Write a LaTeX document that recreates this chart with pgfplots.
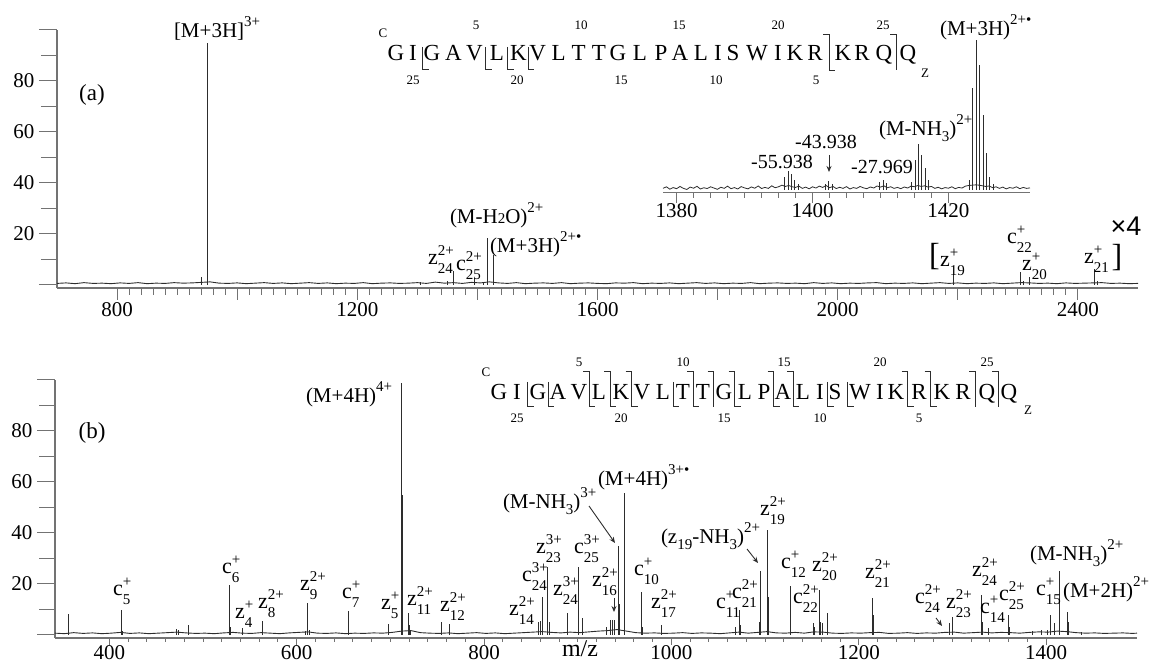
\documentclass[border=0pt]{standalone}
\usepackage{fontspec}
\setmainfont{Liberation Serif}
\newfontfamily\sansf{Liberation Sans}
\usepackage{pgfplots}
\pgfplotsset{compat=1.18}
\usetikzlibrary{arrows.meta}
\definecolor{axgray}{RGB}{115,115,115}
\definecolor{spec}{RGB}{45,45,45}
\newcommand\sfs{\fontsize{7.5}{9}\selectfont}
\newcommand\lf{\fontsize{10.5}{12}\selectfont}
\newcommand\ionf{\fontsize{11}{12}\selectfont}
\newcommand\seqf{\fontsize{11.5}{12}\selectfont}
\newcommand\numf{\fontsize{6.5}{7}\selectfont}
\newcommand\ion[3]{#1{\sfs\rlap{\raisebox{4.8pt}{#3}}\raisebox{-4.2pt}{#2}}}
\newcommand\chg[1]{{\sfs\raisebox{5.5pt}{#1}}}
\newcommand\sbs[1]{{\sfs\raisebox{-3pt}{#1}}}
\pgfplotsset{spectrum/.style={
  scale only axis, axis x line*=bottom, axis y line*=left, tick align=outside,
  axis line style={axgray, line width=0.6pt},
  every tick/.style={axgray, line width=0.5pt},
  /pgf/number format/1000 sep={},
  tick label style={font=\fontsize{10.5}{12}\selectfont, inner sep=1pt},
  yticklabel style={xshift=-5.8pt},
  ymin=-1.2, ymax=100,
  ytick={20,40,60,80}, yticklabels={20,40,60,80},
  minor ytick={10,30,50,70,90},
  extra y ticks={0,100}, extra y tick labels={,},
  clip=false,
}}
\begin{document}
\begin{tikzpicture}
\useasboundingbox (0,0) rectangle (576pt,332pt);
% ---------------- panel (a) ----------------
\begin{axis}[spectrum, at={(28.5pt,188pt)}, anchor=south west,
  width=540.5pt, height=129pt, xmin=700, xmax=2500,
  xtick={800,1000,...,2400}, xticklabels={800,,1200,,1600,,2000,,2400},
  minor x tick num=9, xticklabel style={yshift=-2pt},
  xtick style={/pgfplots/major tick length=6pt, /pgfplots/minor tick length=3.5pt},
  ytick style={/pgfplots/major tick length=9pt, /pgfplots/minor tick length=8pt},
  extra y tick style={/pgfplots/major tick length=11.5pt}]
\addplot[spec, line width=0.45pt] coordinates {
(700,0.6)(715,0.8)(730,0.5)(745,0.9)(760,0.6)(775,0.7)(790,0.5)(805,0.8)(820,0.6)(835,0.9)
(850,0.5)(865,0.7)(880,0.6)(895,0.9)(910,0.7)(925,0.8)(940,1.0)(955,1.2)(970,0.7)(985,0.6)
(1000,0.8)(1015,0.5)(1030,0.7)(1045,0.9)(1060,0.6)(1075,0.8)(1090,0.5)(1105,0.7)(1120,0.9)(1135,0.6)
(1150,0.8)(1165,0.5)(1180,0.7)(1195,0.6)(1210,0.9)(1225,0.5)(1240,0.7)(1255,0.8)(1270,0.6)(1285,0.7)
(1300,0.9)(1315,0.6)(1330,1.1)(1345,0.7)(1360,0.9)(1375,0.6)(1390,1.0)(1405,0.8)(1420,1.2)(1435,0.8)
(1450,0.6)(1465,0.9)(1480,0.5)(1495,0.7)(1510,0.8)(1525,0.6)(1540,0.9)(1555,0.5)(1570,0.7)(1585,0.8)
(1600,0.6)(1615,0.5)(1630,0.8)(1645,0.7)(1660,0.9)(1675,0.5)(1690,0.7)(1705,0.6)(1720,0.8)(1735,0.5)
(1750,0.7)(1765,0.9)(1780,0.6)(1795,0.8)(1810,0.5)(1825,0.7)(1840,0.6)(1855,0.9)(1870,0.5)(1885,0.7)
(1900,0.8)(1915,0.6)(1930,0.7)(1945,0.5)(1960,0.9)(1975,0.6)(1990,0.8)(2005,0.5)(2020,0.7)(2035,0.6)
(2050,0.8)(2065,0.9)(2080,0.5)(2095,0.7)(2110,0.6)(2125,0.8)(2140,0.5)(2155,0.7)(2170,0.9)(2185,0.6)
(2200,0.8)(2215,0.5)(2230,0.7)(2245,0.6)(2260,0.8)(2275,0.5)(2290,0.7)(2305,0.9)(2320,0.8)(2335,0.6)
(2350,0.7)(2365,0.5)(2380,0.8)(2395,0.6)(2410,0.7)(2425,0.8)(2440,0.9)(2455,0.6)(2470,0.7)(2485,0.5)(2500,0.6)};
\addplot[ycomb, spec, line width=0.5pt] coordinates {
(940,3)(949.9,95)(951,1.5)(1305,1)(1350,1.5)(1361,5.6)(1396,2.6)(1410,1.2)(1416.4,18.4)(1426.6,11.8)
(2192.7,4.3)(2305,5.2)(2310,1.5)(2320,3.1)(2428,6.2)(2432,1.5)};
\end{axis}
% ---------------- inset ----------------
\begin{axis}[scale only axis, at={(331.5pt,235.65pt)}, anchor=south west,
  width=183.5pt, height=81.36pt, xmin=1378, xmax=1432, ymin=-1.7, ymax=100,
  axis x line*=bottom, axis y line=none, tick align=outside,
  axis line style={axgray, line width=0.6pt}, every tick/.style={axgray, line width=0.5pt},
  xtick={1380,1400,1420}, xticklabels={1380,1400,1420}, minor x tick num=7,
  xtick style={/pgfplots/major tick length=5pt, /pgfplots/minor tick length=2.5pt},
  tick label style={font=\fontsize{10.5}{12}\selectfont, inner sep=1pt}, clip=false]
\addplot[spec, line width=0.4pt] coordinates {
(1378,1.0)(1378.5,2.0)(1379,0.5)(1379.5,1.5)(1380,0.8)(1380.5,2.2)(1381,1.0)(1381.5,0.3)(1382,1.8)(1382.5,1.1)
(1383,2.3)(1383.5,0.6)(1384,1.4)(1384.5,0.9)(1385,2.0)(1385.5,1.2)(1386,0.4)(1386.5,1.7)(1387,1.0)(1387.5,2.4)
(1388,0.8)(1388.5,1.5)(1389,0.6)(1389.5,2.1)(1390,1.3)(1390.5,0.7)(1391,1.9)(1391.5,1.1)(1392,2.5)(1392.5,0.9)
(1393,1.6)(1393.5,1.0)(1394,2.6)(1394.5,1.4)(1395,2.0)(1395.5,3.0)(1396,2.2)(1396.5,2.8)(1397,2.0)(1397.5,1.6)
(1398,2.4)(1398.5,1.0)(1399,1.8)(1399.5,0.7)(1400,2.0)(1400.5,1.2)(1401,2.4)(1401.5,1.6)(1402,2.8)(1402.5,1.4)
(1403,2.2)(1403.5,0.9)(1404,1.7)(1404.5,1.0)(1405,2.1)(1405.5,0.6)(1406,1.5)(1406.5,1.0)(1407,2.2)(1407.5,1.3)
(1408,0.8)(1408.5,1.9)(1409,1.2)(1409.5,2.5)(1410,1.8)(1410.5,2.6)(1411,1.4)(1411.5,2.0)(1412,1.0)(1412.5,1.6)
(1413,0.8)(1413.5,1.9)(1414,1.2)(1414.5,2.4)(1415,2.0)(1415.5,2.8)(1416,2.2)(1416.5,2.6)(1417,1.8)(1417.5,2.2)
(1418,1.0)(1418.5,1.7)(1419,0.7)(1419.5,1.5)(1420,1.1)(1420.5,2.0)(1421,0.8)(1421.5,1.6)(1422,1.2)(1422.5,2.4)
(1423,2.8)(1423.5,3.0)(1424,3.2)(1424.5,3.0)(1425,2.6)(1425.5,2.2)(1426,2.5)(1426.5,1.4)(1427,2.0)(1427.5,1.0)
(1428,1.8)(1428.5,0.7)(1429,1.5)(1429.5,1.1)(1430,2.0)(1430.5,0.8)(1431,1.6)(1431.5,1.0)(1432,1.3)};
\addplot[ycomb, spec, line width=0.5pt] coordinates {
(1395.9,8)(1396.4,12)(1396.9,10)(1397.4,6)(1397.9,3.5)
(1401.9,4)(1402.4,5.5)(1402.9,3.5)
(1409.9,5)(1410.4,6)(1410.9,4.5)
(1414.6,5)(1415.1,19)(1415.6,29)(1416.1,22)(1416.6,14)(1417.1,6)
(1423.1,6)(1423.6,64)(1424.1,94)(1424.6,78)(1425.1,47)(1425.6,23)(1426.1,8)(1426.6,4)};
\end{axis}
% ---------------- panel (b) ----------------
\begin{axis}[spectrum, at={(27.5pt,13pt)}, anchor=south west,
  width=541pt, height=129pt, xmin=342, xmax=1497,
  xtick={400,600,...,1400}, xticklabels={400,600,800,1000,1200,1400},
  minor x tick num=9, xticklabel style={yshift=1.5pt},
  xtick style={/pgfplots/major tick length=3.5pt, /pgfplots/minor tick length=2pt},
  ytick style={/pgfplots/major tick length=9pt, /pgfplots/minor tick length=8pt},
  extra y tick style={/pgfplots/major tick length=11.5pt}]
\addplot[spec, line width=0.45pt] coordinates {
(342,0.7)(352,0.5)(362,0.9)(372,0.6)(382,0.8)(392,0.5)(402,0.7)(412,1.0)(422,0.6)(432,0.8)
(442,0.5)(452,0.7)(462,0.9)(472,1.1)(482,0.8)(492,0.6)(502,0.7)(512,0.5)(522,0.8)(532,1.0)
(542,0.7)(552,0.6)(562,0.9)(572,0.7)(582,0.5)(592,0.8)(602,1.0)(612,1.2)(622,0.7)(632,0.6)
(642,0.8)(652,0.5)(662,0.7)(672,0.6)(682,0.8)(692,0.7)(702,1.0)(712,1.5)(722,1.7)(732,0.9)
(742,0.7)(752,0.6)(762,0.8)(772,0.5)(782,0.7)(792,0.9)(802,0.6)(812,0.8)(822,0.5)(832,0.7)
(842,0.9)(852,1.1)(862,1.3)(872,1.0)(882,0.8)(892,1.1)(902,0.9)(912,1.2)(922,1.5)(932,1.7)
(942,2.1)(952,1.5)(962,0.9)(972,0.7)(982,0.8)(992,0.6)(1002,0.7)(1012,0.9)(1022,0.6)(1032,0.8)
(1042,0.7)(1052,0.5)(1062,0.8)(1072,1.1)(1082,0.7)(1092,1.0)(1102,1.3)(1112,0.8)(1122,0.7)(1132,1.0)
(1142,0.7)(1152,1.2)(1162,1.1)(1172,0.7)(1182,0.6)(1192,0.8)(1202,0.7)(1212,0.9)(1222,1.0)(1232,0.6)
(1242,0.7)(1252,0.9)(1262,0.6)(1272,0.8)(1282,0.7)(1292,1.0)(1302,1.1)(1312,0.7)(1322,0.9)(1332,1.1)
(1342,0.8)(1352,1.0)(1362,0.9)(1372,0.7)(1382,1.0)(1392,1.2)(1402,1.1)(1412,1.5)(1422,1.3)(1432,0.9)
(1442,0.7)(1452,0.8)(1462,0.6)(1472,0.7)(1482,0.8)(1492,0.6)(1497,0.7)};
\addplot[ycomb, spec, line width=0.5pt] coordinates {
(356,8.2)(413.2,9.8)(414.5,1.5)(472,2.3)(473.5,2)(484,3.9)(528.4,19.6)(529.5,3)(541.8,2.9)(563.5,5.6)
(609,1.5)(612,12.5)(613.5,2)(655.8,9.2)(698,4.3)(712.2,99)(712.45,55)(712.7,27)(712.95,10)
(719.5,8.6)(720.5,4)(721.5,2)(755,5.2)(763.2,4.3)(858.4,5)(860.5,5.5)(862.5,15)(868.2,26.8)(869.6,5)
(889.5,8.8)(900.8,26.7)(904.7,6.7)(930.4,3.3)(934.5,5.9)(937.4,5.9)(939.4,6)(943.9,34.9)(944.3,12)
(949.6,55.7)(949.9,45)(950.3,20)(968.3,17)(969,3)(989.7,3.9)(1068.8,3.1)(1073.1,9.8)(1074,4)
(1094,5.2)(1095.5,25.2)(1103,41.2)(1103.5,15)(1104,6)(1126.6,19)(1127.5,5)(1151.6,4.6)(1152.5,3)
(1158.4,17.6)(1159,5)(1161,4.6)(1166.4,8.6)(1215,14.5)(1215.5,8)(1216,3)(1296.8,4.6)(1300.4,7.2)
(1331.3,15.7)(1332,5)(1338.2,2.7)(1359.9,7.8)(1360.5,3)(1385,1.5)(1395,1.8)(1401,2)(1405,7.8)(1409,4.6)
(1414.2,25.2)(1414.7,8)(1423,9.1)(1423.5,5)(1438,1.2)};
\end{axis}
% ---------------- annotations (pixel frame) ----------------
\begin{scope}[x=0.5pt,y=-0.5pt,yshift=332pt,
  every node/.style={inner sep=0pt, outer sep=0pt, text=black}]
% panel (a) sequence
\foreach \x/\l in {396/G,413/I,432/G,453.5/A,474.5/V,497/L,518.5/K,537.7/V,558.7/L,578.6/T,
  599/T,618/G,640/L,661/P,680/A,701/L,718/I,733/S,757/W,778/I,795/K,815/R,843/K,862/R,884/Q,908/Q}
  \node[anchor=base] at (\x,60.5) {\seqf \l};
\foreach \x/\n in {476/5,581/10,679/15,778/20,883/25} \node at (\x,25) {\numf \n};
\foreach \x/\n in {413/25,517/20,621/15,716/10,816/5} \node at (\x,80) {\numf \n};
\node at (383,33) {\numf C};
\node at (925,73) {\numf Z};
\begin{scope}[line width=0.5pt, spec]
\foreach \x in {422.5,485.7,507.7,528} \draw (\x,47) -- (\x,70) -- (\x+6,70);
\draw (823,35) -- (829,35) -- (829,71) -- (835,71);
\draw (890,35) -- (896,35) -- (896,70);
\end{scope}
% panel (a) labels
\node at (92,95) {\fontsize{11.5}{12}\selectfont (a)};
\node[anchor=base west] at (174,38) {\lf [M+3H]\chg{3+}};
\node[anchor=base west] at (450,224) {\lf (M-H{\sfs 2}O)\chg{2+}};
\node[anchor=base west] at (490,253) {\lf (M+3H)\chg{2+•}};
\node[anchor=base west] at (428,265) {\ionf\ion{z}{24}{2+}};
\node[anchor=base west] at (456,271) {\ionf\ion{c}{25}{2+}};
\node at (934.5,257) {\fontsize{16}{16}\selectfont [};
\node[anchor=base west] at (940,267) {\ionf\ion{z}{19}{+}};
\node[anchor=base west] at (1007,244) {\ionf\ion{c}{22}{+}};
\node[anchor=base west] at (1022,271) {\ionf\ion{z}{20}{+}};
\node[anchor=base west] at (1084,264) {\ionf\ion{z}{21}{+}};
\node at (1117,258) {\fontsize{16}{16}\selectfont ]};
\node at (1126,226) {\sansf\fontsize{13.5}{14}\selectfont ×4};
% inset labels
\node[anchor=base west] at (940,36) {\lf (M+3H)\chg{2+•}};
\node[anchor=base west] at (879,136) {\lf (M-NH\sbs{3})\chg{2+}};
\node at (826,142) {\fontsize{10}{12}\selectfont -43.938};
\node at (782,162) {\fontsize{10}{12}\selectfont -55.938};
\node at (882,167) {\fontsize{10}{12}\selectfont -27.969};
\draw[spec, line width=0.5pt, -{Stealth[length=3pt,width=2.5pt]}] (829,155) -- (829,172);
% panel (b) sequence
\foreach \x/\l in {499/G,517/I,538/G,558/A,579/V,599/L,621/K,642/V,663/L,683/T,703/T,724/G,745/L,
  764/P,783/A,803/L,820/I,835/S,860/W,880/I,896/K,919/R,942/K,963/R,987/Q,1009/Q}
  \node[anchor=base] at (\x,399.5) {\seqf \l};
\foreach \x/\n in {579/5,683/10,784/15,880/20,987/25} \node at (\x,362) {\numf \n};
\foreach \x/\n in {517/25,621/20,724/15,820/10,919/5} \node at (\x,418) {\numf \n};
\node at (486,372) {\numf C};
\node at (1028,410) {\numf Z};
\begin{scope}[line width=0.5pt, spec]
\foreach \x in {527.5,548,673,827.5,847.5} \draw (\x,382) -- (\x,407) -- (\x+6,407);
\foreach \x in {713.5,975,998} \draw (\x-6,372) -- (\x,372) -- (\x,407);
\foreach \x in {589,610,631.5,693,734.5,773.5,793,907.5,930.5} \draw (\x-6,372) -- (\x,372) -- (\x,407) -- (\x+6,407);
\end{scope}
% panel (b) labels
\node at (92,433) {\fontsize{11.5}{12}\selectfont (b)};
\node[anchor=base west] at (306,403) {\lf (M+4H)\chg{4+}};
\node[anchor=base west] at (503,509) {\lf (M-NH\sbs{3})\chg{3+}};
\node[anchor=base west] at (598,486) {\lf (M+4H)\chg{3+•}};
\node[anchor=base west] at (661,544) {\lf (z\sbs{19}-NH\sbs{3})\chg{2+}};
\node[anchor=base west] at (1030,561) {\lf (M-NH\sbs{3})\chg{2+}};
\node[anchor=base west] at (1063,598) {\lf (M+2H)\chg{2+}};
\foreach \x/\y/\a/\b/\c in {113/596/c/5/+, 222/574/c/6/+, 235/619/z/4/+, 258/609/z/8/2+,
  300/591/z/9/2+, 342/599/c/7/+, 381/610/z/5/+, 407/606/z/11/2+, 440/612/z/12/2+,
  509/616/z/14/2+, 522/582/c/24/3+, 536/554/z/23/3+, 553/596/z/24/3+, 574/554/c/25/3+,
  592/587/z/16/2+, 634/576/c/10/+, 651/609/z/17/2+, 716/609/c/11/+, 732/599/c/21/2+,
  760/516/z/19/2+, 781/569/c/12/+, 793/604/c/22/2+, 812/572/z/20/2+, 865/579/z/21/2+,
  915/604/c/24/2+, 946/609/z/23/2+, 972/577/z/24/2+, 980/614/c/14/+, 999/601/c/25/2+,
  1036/596/c/15/+}
  \node[anchor=base west] at (\x,\y) {\ionf\ion{\a}{\b}{\c}};
\begin{scope}[spec, line width=0.45pt, -{Stealth[length=3pt,width=2.5pt]}]
\draw (589,506) -- (615,543);
\draw (747,549) -- (758,563);
\draw (614,598) -- (614,612);
\draw (936,618) -- (942,626);
\end{scope}
\node[anchor=base] at (580,657) {\fontsize{12}{13}\selectfont m/z};
\end{scope}
\end{tikzpicture}
\end{document}
